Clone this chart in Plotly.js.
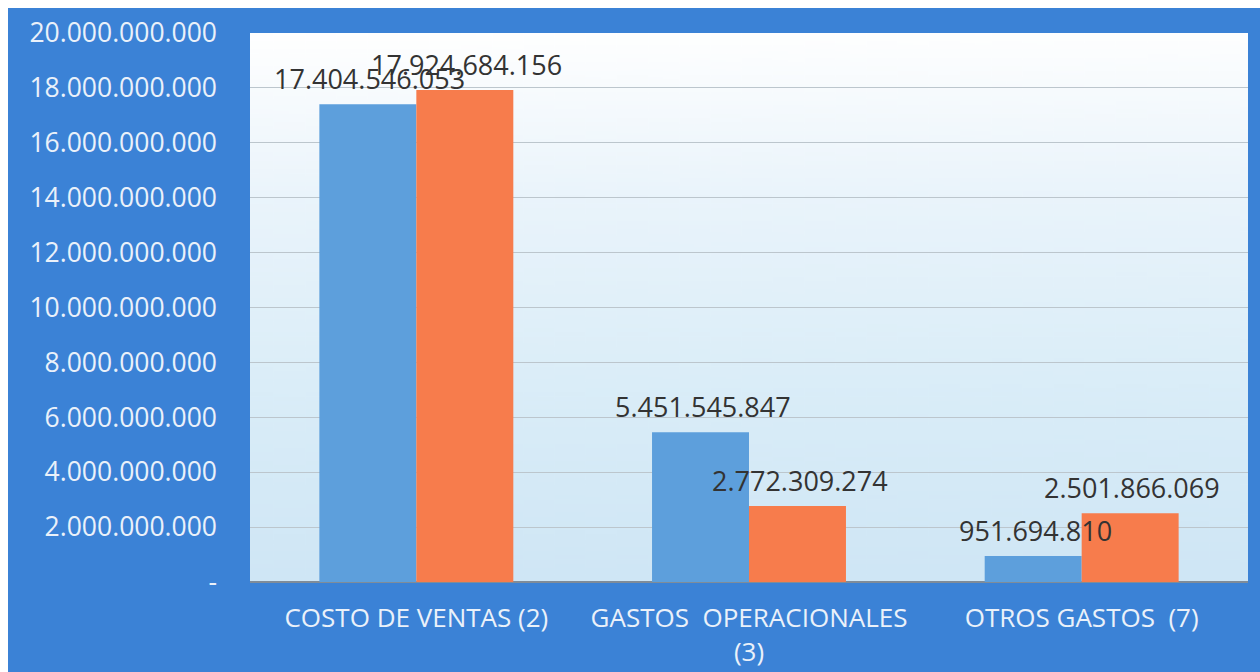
<!DOCTYPE html>
<html>
<head>
<meta charset="utf-8">
<script src="https://cdn.plot.ly/plotly-3.0.1.min.js"></script>
<style>
  html, body { margin: 0; padding: 0; background: #ffffff; width: 1260px; height: 672px; overflow: hidden; }
  #chart { position: absolute; left: 8px; top: 8px; width: 1252px; height: 664px; }
</style>
</head>
<body>
<div id="chart"></div>
<script>
// ---- data ----
const categories = ["COSTO DE VENTAS (2)", "GASTOS  OPERACIONALES<br>(3)", "OTROS GASTOS  (7)"];
const seriesA = [17404546053, 5451545847, 951694810];
const seriesB = [17924684156, 2772309274, 2501866069];
const tickValues = [0, 2e9, 4e9, 6e9, 8e9, 10e9, 12e9, 14e9, 16e9, 18e9, 20e9];
const tickLabels = ["-", "2.000.000.000", "4.000.000.000", "6.000.000.000", "8.000.000.000",
  "10.000.000.000", "12.000.000.000", "14.000.000.000", "16.000.000.000", "18.000.000.000", "20.000.000.000"];

function fmt(v) { return String(v).replace(/\B(?=(\d{3})+(?!\d))/g, "."); }

// background gradient for plot area (generated at runtime)
function gradientURL() {
  const c = document.createElement("canvas");
  c.width = 64; c.height = 256;
  const g = c.getContext("2d");
  const lg = g.createLinearGradient(0, 0, 20, 256);
  lg.addColorStop(0, "#ffffff");
  lg.addColorStop(0.3, "#eaf4fb");
  lg.addColorStop(0.65, "#daedf8");
  lg.addColorStop(1, "#cfe6f5");
  g.fillStyle = lg;
  g.fillRect(0, 0, 64, 256);
  return c.toDataURL("image/png");
}

const barOffset = 48.5;
const labelFont = { family: "Open Sans, sans-serif", size: 27, color: "#333333" };
const annotations = [];
categories.forEach((cat, i) => {
  annotations.push({ x: cat, y: seriesA[i], xref: "x", yref: "y", text: fmt(seriesA[i]),
    showarrow: false, xanchor: "center", yanchor: "bottom", xshift: -barOffset + 2, yshift: 5, font: labelFont });
  annotations.push({ x: cat, y: seriesB[i], xref: "x", yref: "y", text: fmt(seriesB[i]),
    showarrow: false, xanchor: "center", yanchor: "bottom", xshift: barOffset + 2, yshift: 5, font: labelFont });
});

const traces = [
  { type: "bar", name: "A", x: categories, y: seriesA, marker: { color: "#5d9fdc", line: { width: 0 } }, hoverinfo: "skip" },
  { type: "bar", name: "B", x: categories, y: seriesB, marker: { color: "#f77c4c", line: { width: 0 } }, hoverinfo: "skip" }
];

const layout = {
  width: 1252, height: 664,
  paper_bgcolor: "#3b82d6",
  plot_bgcolor: "rgba(0,0,0,0)",
  margin: { l: 242, r: 12, t: 25, b: 90, pad: 0 },
  barmode: "group",
  bargap: 0.417,
  bargroupgap: 0,
  showlegend: false,
  font: { family: "Open Sans, sans-serif" },
  xaxis: {
    type: "category",
    tickfont: { family: "Open Sans, sans-serif", size: 26, color: "#eaf1fa" },
    ticks: "", ticklabelstandoff: 18,
    showgrid: false, showline: false, zeroline: false,
    fixedrange: true
  },
  yaxis: {
    range: [0, 20e9],
    tickmode: "array", tickvals: tickValues, ticktext: tickLabels,
    tickfont: { family: "Open Sans, sans-serif", size: 26.5, color: "#eaf1fa" },
    ticks: "", ticklabelstandoff: 32,
    showgrid: true, gridcolor: "#bcc6cd", gridwidth: 1,
    zeroline: true, zerolinecolor: "#7f8c99", zerolinewidth: 2,
    showline: false, fixedrange: true
  },
  images: [{
    source: gradientURL(), xref: "paper", yref: "paper", x: 0, y: 1, sizex: 1, sizey: 1,
    sizing: "stretch", layer: "below", xanchor: "left", yanchor: "top"
  }],
  annotations: annotations
};

Plotly.newPlot("chart", traces, layout, { displayModeBar: false, staticPlot: true });
</script>
</body>
</html>
